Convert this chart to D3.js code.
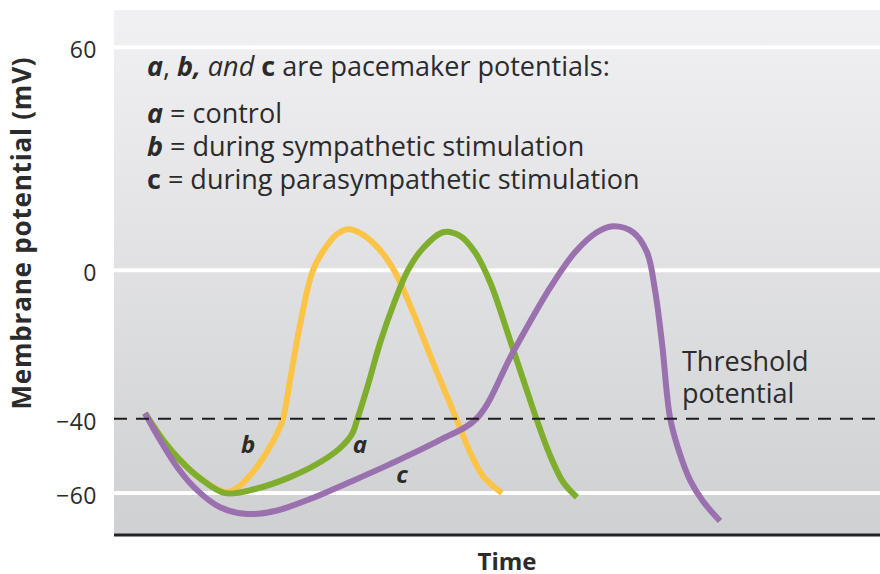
<!DOCTYPE html>
<html lang="en">
<head>
<meta charset="UTF-8">
<title>Pacemaker potentials</title>
<script src="https://d3js.org/d3.v7.min.js"></script>
<style>
  body { margin: 0; background: #fff; }
  text { font-family: "Open Sans", sans-serif; fill: #2b2b2b; }
</style>
</head>
<body>
<div id="chart"></div>
<script>
// time is in arbitrary units (0-100 across the panel), voltage in mV
const tickValues = [60, 0, -40, -60];
const gridValues = [60, 0, -60];
const threshold = -40;

// b = sympathetic stimulation
const timeB = [4.05, 6.40, 8.62, 11.23, 14.49, 16.19, 18.15, 20.10, 21.93, 22.98, 24.28, 25.98, 27.55, 29.11, 30.55, 32.38, 34.73, 36.68, 39.03, 41.64, 44.78, 46.48, 48.17, 50.65];
const voltB = [-38.5, -45.7, -51.1, -56.0, -59.7, -58.4, -54.3, -48.4, -40.9, -29.6, -14.8, 0, 5.9, 9.7, 11.0, 9.7, 5.4, -0.5, -11.3, -24.8, -40.4, -49.0, -55.4, -60.0];

// a = control
const timeA = [4.05, 6.40, 8.62, 11.23, 14.49, 18.41, 22.98, 26.89, 29.50, 31.07, 31.72, 33.16, 34.73, 36.55, 38.38, 40.34, 42.95, 45.17, 47.13, 49.09, 51.70, 53.66, 55.22, 56.92, 58.62, 60.44];
const voltA = [-38.5, -45.7, -51.1, -56.0, -60.0, -58.9, -55.7, -51.7, -47.9, -44.1, -40.4, -30.9, -19.6, -8.9, 0, 5.9, 10.2, 9.2, 4.8, -3.2, -18.8, -30.9, -40.4, -49.8, -57.0, -61.1];

// c = parasympathetic stimulation
const timeC = [4.05, 6.01, 8.36, 10.84, 13.84, 17.36, 21.02, 25.59, 30.81, 36.03, 42.56, 47.39, 52.09, 56.92, 60.18, 63.05, 65.14, 67.76, 69.58, 70.63, 71.54, 72.58, 73.63, 75.20, 76.89, 79.11];
const voltC = [-38.5, -45.7, -53.3, -59.2, -63.8, -65.6, -64.8, -61.6, -57.0, -52.2, -45.7, -39.8, -22.1, -4.8, 4.8, 10.2, 11.8, 10.2, 4.8, -5.4, -19.6, -39.6, -47.9, -56.5, -62.2, -67.5];

const seriesNames = ["b", "a", "c"];
const seriesColors = ["#fcc447", "#7fad2d", "#9a70ae"];

const width = 880, height = 574;
const svg = d3.select("#chart").append("svg")
    .attr("width", width)
    .attr("height", height);

const x = d3.scaleLinear().domain([0, 100]).range([114, 880]);
const y = d3.scaleLinear().domain([-71, 70]).range([534, 10]);

// panel background with vertical gradient
const grad = svg.append("defs").append("linearGradient")
    .attr("id", "bg").attr("x1", 0).attr("y1", 0).attr("x2", 0).attr("y2", 1);
grad.append("stop").attr("offset", "0%").attr("stop-color", "#f1f1f3");
grad.append("stop").attr("offset", "100%").attr("stop-color", "#cfd0d2");

svg.append("rect")
    .attr("x", x(0)).attr("y", y(70))
    .attr("width", x(100) - x(0)).attr("height", y(-71) - y(70))
    .attr("fill", "url(#bg)");

// white grid lines
svg.selectAll(".grid").data(gridValues).enter().append("line")
    .attr("class", "grid")
    .attr("x1", x(0)).attr("x2", x(100))
    .attr("y1", d => y(d)).attr("y2", d => y(d))
    .attr("stroke", "#fff").attr("stroke-width", 4);

// bottom axis line
svg.append("line")
    .attr("x1", x(0)).attr("x2", x(100))
    .attr("y1", y(-71) + 1).attr("y2", y(-71) + 1)
    .attr("stroke", "#222").attr("stroke-width", 3);

// y axis tick labels
const yAxis = d3.axisLeft(y)
    .tickValues(tickValues)
    .tickSize(0)
    .tickPadding(0)
    .tickFormat(d => d < 0 ? "\u2212" + Math.abs(d) : d);
const gy = svg.append("g").attr("transform", "translate(97,3)").call(yAxis);
gy.select(".domain").remove();
gy.selectAll("text")
    .attr("font-family", "'Open Sans', sans-serif")
    .attr("font-size", 23)
    .attr("fill", "#333")
    .attr("letter-spacing", 0.5);

// curves
const line = d3.line()
    .x(d => x(d[0]))
    .y(d => y(d[1]))
    .curve(d3.curveCatmullRom.alpha(0.5));

const series = [
    d3.zip(timeB, voltB),
    d3.zip(timeA, voltA),
    d3.zip(timeC, voltC)
];

svg.selectAll(".curve").data(series).enter().append("path")
    .attr("class", "curve")
    .attr("d", line)
    .attr("fill", "none")
    .attr("stroke", (d, i) => seriesColors[i])
    .attr("stroke-width", 6)
    .attr("stroke-linejoin", "round");

// threshold line
svg.append("line")
    .attr("x1", x(0)).attr("x2", x(100))
    .attr("y1", y(threshold)).attr("y2", y(threshold))
    .attr("stroke", "#1e1e1e").attr("stroke-width", 2)
    .attr("stroke-dasharray", "13 9");

// curve labels
const labelPos = [[17.5, -49.3], [32.1, -49.3], [37.6, -57.3]];
svg.selectAll(".clabel").data(seriesNames).enter().append("text")
    .attr("class", "clabel")
    .attr("x", (d, i) => x(labelPos[i][0]))
    .attr("y", (d, i) => y(labelPos[i][1]))
    .attr("text-anchor", "middle")
    .attr("font-size", 24)
    .attr("font-weight", "bold")
    .attr("font-style", "italic")
    .text(d => d);

// legend text block
const fs = 27;
const t1 = svg.append("text").attr("x", 147).attr("y", 76).attr("font-size", fs);
t1.append("tspan").attr("font-weight", "bold").attr("font-style", "italic").text("a");
t1.append("tspan").text(", ");
t1.append("tspan").attr("font-weight", "bold").attr("font-style", "italic").text("b,");
t1.append("tspan").attr("font-style", "italic").text(" and ");
t1.append("tspan").attr("font-weight", "bold").text("c");
t1.append("tspan").text(" are pacemaker potentials:");

const legendRows = [
    ["a", " = control", 123],
    ["b", " = during sympathetic stimulation", 156],
    ["c", " = during parasympathetic stimulation", 189]
];
legendRows.forEach(r => {
    const t = svg.append("text").attr("x", 147).attr("y", r[2]).attr("font-size", fs);
    t.append("tspan").attr("font-weight", "bold").attr("font-style", r[0] === "c" ? "normal" : "italic").text(r[0]);
    t.append("tspan").text(r[1]);
});

// threshold label
const th = svg.append("text").attr("x", 682).attr("font-size", fs);
th.append("tspan").attr("x", 682).attr("y", 371).text("Threshold");
th.append("tspan").attr("x", 682).attr("y", 403).text("potential");

// axis titles
svg.append("text")
    .attr("transform", "translate(31,233) rotate(-90)")
    .attr("text-anchor", "middle")
    .attr("font-size", 26)
    .attr("font-weight", "bold")
    .attr("letter-spacing", 0.8)
    .attr("fill", "#1a1a1a")
    .text("Membrane potential (mV)");

svg.append("text")
    .attr("x", 507).attr("y", 570)
    .attr("text-anchor", "middle")
    .attr("font-size", 24)
    .attr("font-weight", "bold")
    .attr("fill", "#1a1a1a")
    .text("Time");
</script>
</body>
</html>
